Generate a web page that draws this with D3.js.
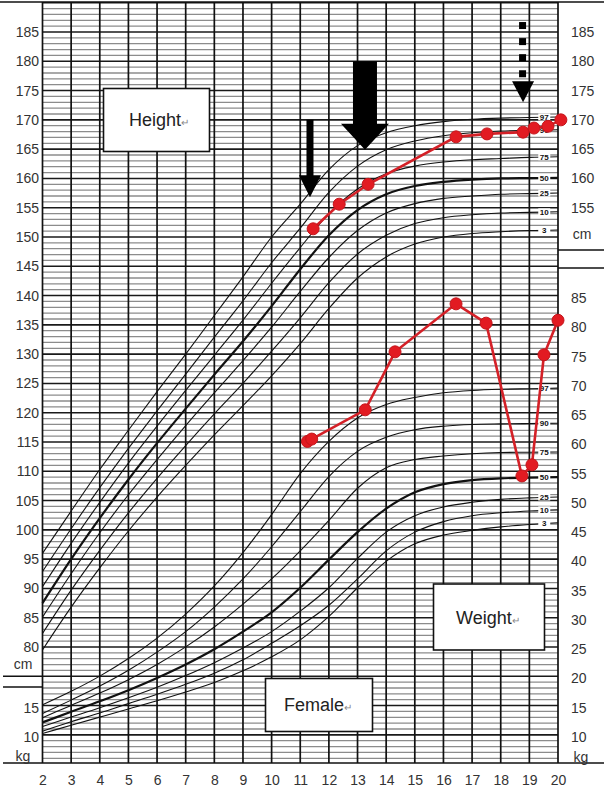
<!DOCTYPE html>
<html><head><meta charset="utf-8">
<script src="https://cdn.jsdelivr.net/npm/d3@7"></script>
<style>
body{margin:0;background:#fff}
svg{display:block}
text{font-family:"Liberation Sans",Arial,Helvetica,sans-serif}
</style>
</head><body>
<svg id="c" width="604" height="793"></svg>
<script>
// ---------- data ----------
const ages = [2,3,4,5,6,7,8,9,10,11,12,13,14,15,16,17,18,19,20];
const pctNames = ["3","10","25","50","75","90","97"];

const hP3  = [79.5,86.8,93.5,99.8,105.6,111.0,116.2,121.2,126.3,131.8,137.8,143.0,146.6,148.8,150.0,150.6,150.9,151.1,151.2];
const hP10 = [82.3,89.7,96.5,102.9,108.8,114.4,119.8,125.0,130.5,136.2,142.2,147.1,150.3,152.3,153.3,153.8,154.1,154.2,154.3];
const hP25 = [85.1,92.5,99.5,106.0,112.0,117.8,123.4,128.9,134.6,140.7,146.5,151.1,154.1,155.7,156.6,157.0,157.3,157.4,157.5];
const hP50 = [87.5,95.0,102.0,108.6,114.8,120.7,126.5,132.2,138.2,144.5,150.3,154.6,157.3,158.7,159.4,159.8,160.0,160.05,160.1];
const hP75 = [90.3,97.7,104.7,111.4,117.7,123.8,129.8,135.8,142.1,148.2,154.0,158.2,160.8,162.1,162.8,163.2,163.4,163.6,163.7];
const hP90 = [92.9,100.2,107.2,113.9,120.3,126.6,132.9,139.1,145.6,151.5,157.6,162.1,164.9,166.4,167.3,167.8,168.1,168.2,168.3];
const hP97 = [96.0,103.2,110.3,117.0,123.6,130.0,136.6,143.2,150.0,155.6,161.5,165.6,167.8,169.0,169.7,170.1,170.3,170.4,170.5];

const wP3  = [10.6,12.0,13.4,14.8,16.2,17.7,19.3,21.3,23.7,26.6,30.6,35.5,40.0,43.0,44.5,45.3,45.9,46.3,46.6];
const wP10 = [11.0,12.6,14.1,15.7,17.3,19.0,20.9,23.2,26.0,29.0,32.5,37.0,41.8,45.0,46.8,47.8,48.3,48.6,48.8];
const wP25 = [11.8,13.4,15.0,16.7,18.5,20.5,22.7,25.2,28.0,31.5,35.5,40.5,45.0,47.8,49.3,50.1,50.6,50.85,51.0];
const wP50 = [12.5,14.3,16.1,18.0,20.1,22.4,25.0,28.0,31.3,35.5,40.3,45.0,49.0,51.8,53.2,53.9,54.2,54.3,54.4];
const wP75 = [13.3,15.4,17.5,19.8,22.4,25.4,28.8,32.7,37.0,41.8,47.0,52.5,56.0,57.4,58.0,58.4,58.6,58.65,58.7];
const wP90 = [14.0,16.3,18.7,21.4,24.5,28.0,32.2,37.0,42.5,48.5,54.5,58.8,61.2,62.5,63.1,63.4,63.5,63.55,63.6];
const wP97 = [15.5,17.8,20.4,23.4,26.9,31.0,35.8,41.5,48.0,55.0,60.5,64.5,66.8,68.0,68.8,69.2,69.4,69.5,69.6];

// patient measurements
const ptHeightAge = [11.45,12.36,13.37,16.44,17.52,18.78,19.16,19.65,20.1];
const ptHeight    = [151.4,155.6,159.0,167.1,167.6,167.9,168.6,168.9,170.0];
const ptWeightAge = [11.25,11.4,13.27,14.31,16.44,17.49,18.74,19.09,19.51,20.0];
const ptWeight    = [60.5,60.9,65.9,75.8,84.0,80.7,54.6,56.5,75.3,81.2];

// tick labels
const ageTicks = [2,3,4,5,6,7,8,9,10,11,12,13,14,15,16,17,18,19,20];
const hTicksLeft = [80,85,90,95,100,105,110,115,120,125,130,135,140,145,150,155,160,165,170,175,180,185];
const hTicksRight = [155,160,165,170,175,180,185];
const wTicksLeft = [10,15];
const wTicksRight = [10,15,20,25,30,35,40,45,50,55,60,65,70,75,80,85];

// arrows: [age, fromHeight, toHeight, kind]
const arrows = [
  {age:11.34, from:170.0, to:156.8, kind:"thin"},
  {age:13.26, from:180.0, to:164.9, kind:"thick"},
  {age:18.78, from:186.7, to:173.0, kind:"dotted"}
];

// ---------- scales ----------
const x  = d3.scaleLinear().domain([2,20]).range([42.5,558]);
const yH = d3.scaleLinear().domain([80,185]).range([647,32]);
const yW = d3.scaleLinear().domain([10,85]).range([737,298]);

const svg = d3.select("#c");
const X0 = x(2), X1 = x(20), TOP = 2, BOT = 763;

svg.append("rect").attr("width",604).attr("height",793).attr("fill","#fff");

// ---------- grid ----------
const g = svg.append("g");
const minorH = d3.range(61,191,1).filter(v=>v%5!==0);
const majorH = d3.range(65,191,5);
g.selectAll(".mn").data(minorH).join("line")
  .attr("x1",X0).attr("x2",X1).attr("y1",d=>yH(d)).attr("y2",d=>yH(d))
  .attr("stroke","#8c8c8c").attr("stroke-width",1.3);
g.selectAll(".mj").data(majorH).join("line")
  .attr("x1",X0).attr("x2",X1).attr("y1",d=>yH(d)).attr("y2",d=>yH(d))
  .attr("stroke","#1a1a1a").attr("stroke-width",1.6);
g.selectAll(".vl").data(ageTicks).join("line")
  .attr("x1",d=>x(d)).attr("x2",d=>x(d)).attr("y1",TOP).attr("y2",BOT)
  .attr("stroke","#111").attr("stroke-width",1.7);

// ---------- percentile curves ----------
const hSeries = [hP3,hP10,hP25,hP50,hP75,hP90,hP97];
const wSeries = [wP3,wP10,wP25,wP50,wP75,wP90,wP97];
const lineH = d3.line().x((d,i)=>x(ages[i])).y(d=>yH(d)).curve(d3.curveMonotoneX);
const lineW = d3.line().x((d,i)=>x(ages[i])).y(d=>yW(d)).curve(d3.curveMonotoneX);
const cg = svg.append("g").attr("fill","none");
hSeries.forEach((s,k)=>{
  cg.append("path").attr("d",lineH(s)).attr("stroke","#111").attr("stroke-width",k===3?2.2:1.1);
});
wSeries.forEach((s,k)=>{
  cg.append("path").attr("d",lineW(s)).attr("stroke","#111").attr("stroke-width",k===3?2.2:1.1);
});

// percentile end labels
function pctLabel(series, scale){
  series.forEach((s,k)=>{
    const yy = scale(s[s.length-1]);
    const lg = svg.append("g").attr("transform",`translate(${x(19.52)},${yy})`);
    lg.append("rect").attr("x",-6).attr("y",-3.5).attr("width",12).attr("height",7).attr("fill","#fff");
    lg.append("text").attr("text-anchor","middle").attr("dy","0.35em")
      .attr("font-size",8).attr("font-weight","bold").attr("fill","#111").text(pctNames[k]);
  });
}
pctLabel(hSeries,yH);
pctLabel(wSeries,yW);

// ---------- text boxes ----------
function box(x0,y0,w,h,label,tx,ty){
  const b = svg.append("g");
  b.append("rect").attr("x",x0).attr("y",y0).attr("width",w).attr("height",h)
    .attr("fill","#fff").attr("stroke","#111").attr("stroke-width",1.6);
  const t = b.append("text").attr("x",tx).attr("y",ty).attr("font-size",18).attr("fill","#222");
  t.append("tspan").text(label);
  t.append("tspan").attr("font-size",10).attr("fill","#888").text("\u21b5");
}
box(103.5,88.5,106,63,"Height",129,126);
box(433.5,584,111,66,"Weight",456,624);
box(265.5,678.5,107,53,"Female",284,711);

// ---------- patient data ----------
const red = "#e21b22";
const ph = d3.line().x((d,i)=>x(ptHeightAge[i])).y(d=>yH(d));
const pw = d3.line().x((d,i)=>x(ptWeightAge[i])).y(d=>yW(d));
svg.append("path").attr("d",ph(ptHeight)).attr("fill","none").attr("stroke","#d42027").attr("stroke-width",2.6);
svg.append("path").attr("d",pw(ptWeight)).attr("fill","none").attr("stroke","#d42027").attr("stroke-width",2.6);
svg.selectAll(".ph").data(ptHeight).join("circle")
  .attr("cx",(d,i)=>x(ptHeightAge[i])).attr("cy",d=>yH(d)).attr("r",6)
  .attr("fill",red).attr("stroke","#c4161c").attr("stroke-width",1);
svg.selectAll(".pw").data(ptWeight).join("circle")
  .attr("cx",(d,i)=>x(ptWeightAge[i])).attr("cy",d=>yW(d)).attr("r",6)
  .attr("fill",red).attr("stroke","#c4161c").attr("stroke-width",1);

// ---------- arrows ----------
arrows.forEach(a=>{
  const cx = x(a.age), y0 = yH(a.from), y1 = yH(a.to);
  if(a.kind==="thin"){
    const hw=3.5, headH=22, headW=11;
    svg.append("path").attr("fill","#000")
      .attr("d",`M${cx-hw},${y0}L${cx+hw},${y0}L${cx+hw},${y1-headH}L${cx+headW},${y1-headH}L${cx},${y1}L${cx-headW},${y1-headH}L${cx-hw},${y1-headH}Z`);
  } else if(a.kind==="thick"){
    const hw=12, headH=26, headW=24;
    svg.append("path").attr("fill","#000")
      .attr("d",`M${cx-hw},${y0}L${cx+hw},${y0}L${cx+hw},${y1-headH}L${cx+headW},${y1-headH}L${cx},${y1}L${cx-headW},${y1-headH}L${cx-hw},${y1-headH}Z`);
  } else {
    const headH=21, headW=11, s=7;
    const n=4, span=(y1-headH-3)-y0;
    for(let i=0;i<n;i++){
      const yy = y0 + i*(span/(n-0.5));
      svg.append("rect").attr("x",cx-s/2-0.5).attr("y",yy).attr("width",s).attr("height",s).attr("fill","#000");
    }
    svg.append("path").attr("fill","#000")
      .attr("d",`M${cx-headW},${y1-headH}L${cx+headW},${y1-headH}L${cx},${y1}Z`);
  }
});

// ---------- frame ----------
const fr = svg.append("g").attr("stroke","#111").attr("stroke-width",1.6);
fr.append("line").attr("x1",0).attr("x2",604).attr("y1",TOP).attr("y2",TOP);
fr.append("line").attr("x1",3).attr("x2",604).attr("y1",BOT).attr("y2",BOT);
fr.append("line").attr("x1",3).attr("x2",X0).attr("y1",yH(75)).attr("y2",yH(75));
fr.append("line").attr("x1",3).attr("x2",X0).attr("y1",687).attr("y2",687);
fr.append("line").attr("x1",X1).attr("x2",604).attr("y1",250).attr("y2",250);
fr.append("line").attr("x1",X1).attr("x2",604).attr("y1",268).attr("y2",268);

// ---------- axes ----------
function styleAxis(sel){
  sel.select(".domain").remove();
  sel.selectAll("text").attr("font-size",14).attr("fill","#333")
    .attr("font-family","'Liberation Sans',Arial,sans-serif");
}
svg.append("g").attr("transform",`translate(40,0)`)
  .call(d3.axisLeft(yH).tickValues(hTicksLeft).tickSize(0).tickPadding(1).tickFormat(d3.format("d")))
  .call(styleAxis);
svg.append("g").attr("transform",`translate(40,0)`)
  .call(d3.axisLeft(yW).tickValues(wTicksLeft).tickSize(0).tickPadding(1).tickFormat(d3.format("d")))
  .call(styleAxis);
svg.append("g").attr("transform",`translate(570,0)`)
  .call(d3.axisRight(yH).tickValues(hTicksRight).tickSize(0).tickPadding(1).tickFormat(d3.format("d")))
  .call(styleAxis);
svg.append("g").attr("transform",`translate(570,0)`)
  .call(d3.axisRight(yW).tickValues(wTicksRight).tickSize(0).tickPadding(1).tickFormat(d3.format("d")))
  .call(styleAxis);
svg.append("g").attr("transform",`translate(0,775)`)
  .call(d3.axisBottom(x).tickValues(ageTicks).tickSize(0).tickPadding(0).tickFormat(d3.format("d")))
  .call(styleAxis);

// unit labels
const units = [
  {t:"cm", x:23, y:yH(77.0), a:"middle"},
  {t:"kg", x:23, y:yW(6.7), a:"middle"},
  {t:"cm", x:582, y:yH(150.5), a:"middle"},
  {t:"kg", x:581, y:yW(6.6), a:"middle"}
];
svg.selectAll(".u").data(units).join("text")
  .attr("x",d=>d.x).attr("y",d=>d.y).attr("dy","0.35em").attr("text-anchor",d=>d.a)
  .attr("font-size",14).attr("fill","#333").text(d=>d.t);
</script>
</body></html>
